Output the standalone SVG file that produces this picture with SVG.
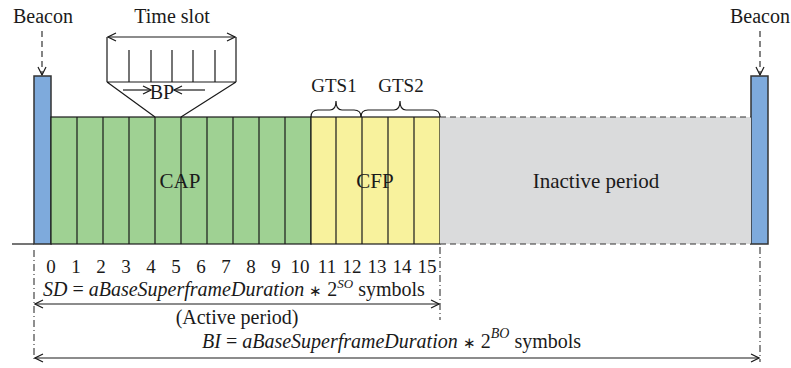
<svg xmlns="http://www.w3.org/2000/svg" width="791" height="368" viewBox="0 0 791 368">
<style>
text{font-family:"Liberation Serif","Times New Roman",serif;fill:#1a1a1a}
.lbl{font-size:20px}
.big{font-size:21px}
.gts{font-size:19px}
.num{font-size:19px}
.frm{font-size:20px}
.ln{stroke:#1a1a1a;stroke-width:1.2;fill:none}
.dash{stroke:#333;stroke-width:1.2;fill:none;stroke-dasharray:6,4}
.dd{stroke:#444;stroke-width:1.2;fill:none;stroke-dasharray:7,3,1,3}
.beacon{fill:#7eaadc;stroke:#333;stroke-width:1.5}
.green{fill:#9fd193;stroke:#1a1a1a;stroke-width:1.2}
.yellow{fill:#f8f29d;stroke:#1a1a1a;stroke-width:1.2}
.it{font-style:italic}
</style>
<defs>
<marker id="ah" viewBox="0 0 10 10" refX="9" refY="5" markerWidth="10" markerHeight="10" markerUnits="userSpaceOnUse" orient="auto-start-reverse">
<path d="M1,1 L9,5 L1,9" fill="none" stroke="#1a1a1a" stroke-width="1.2"/>
</marker>
</defs>

<g id="connectors">
<line class="dash" x1="42" y1="31" x2="42" y2="75" marker-end="url(#ah)"/>
<line class="dash" x1="760" y1="31" x2="760" y2="75" marker-end="url(#ah)"/>
<line class="ln" x1="12" y1="244" x2="34" y2="244"/>
<line class="dd" x1="34" y1="250" x2="34" y2="362"/>
<line class="dd" x1="440" y1="247" x2="440" y2="320"/>
<line class="dd" x1="760" y1="247" x2="760" y2="362"/>
<line class="ln" x1="35" y1="304" x2="439" y2="304" marker-start="url(#ah)" marker-end="url(#ah)"/>
<line class="ln" x1="35" y1="358" x2="759" y2="358" marker-start="url(#ah)" marker-end="url(#ah)"/>
</g>

<g id="beacon-left">
<text class="lbl" x="43" y="23" text-anchor="middle">Beacon</text>
<rect class="beacon" x="34" y="76" width="17" height="168"/>
</g>

<g id="beacon-right">
<text class="lbl" x="760" y="23" text-anchor="middle">Beacon</text>
<rect class="beacon" x="751" y="76" width="17" height="168"/>
</g>

<g id="cap">
<rect class="green" x="51" y="117" width="260" height="127"/>
<path class="ln" d="M77,117V244M103,117V244M129,117V244M155,117V244M181,117V244M207,117V244M233,117V244M259,117V244M285,117V244"/>
<text class="big" x="180" y="188" text-anchor="middle">CAP</text>
</g>

<g id="cfp">
<rect class="yellow" x="311" y="117" width="129" height="127"/>
<path class="ln" d="M336,117V244M362,117V244M388,117V244M414,117V244"/>
<text class="big" x="375" y="188" text-anchor="middle">CFP</text>
</g>

<g id="inactive">
<rect x="440" y="117" width="311" height="127" fill="#dadbdc"/>
<line class="dash" x1="440" y1="117" x2="751" y2="117"/>
<line class="dash" x1="440" y1="244" x2="751" y2="244"/>
<text class="big" x="596" y="188" text-anchor="middle">Inactive period</text>
</g>

<g id="timeslot">
<text class="lbl" x="172" y="23" text-anchor="middle">Time slot</text>
<line class="ln" x1="108" y1="37" x2="235" y2="37" marker-start="url(#ah)" marker-end="url(#ah)"/>
<path class="ln" d="M107,37V82M236,37V82M107,82H236M129,50V82M151,50V82M172,50V82M193,50V82M215,50V82M107,82L155,117M236,82L181,117"/>
<line class="ln" x1="123" y1="90" x2="151" y2="90" marker-end="url(#ah)"/>
<line class="ln" x1="205" y1="90" x2="174" y2="90" marker-end="url(#ah)"/>
<text class="lbl" x="162" y="99" text-anchor="middle">BP</text>
</g>

<g id="gts">
<text class="gts" x="334" y="92" text-anchor="middle">GTS1</text>
<text class="gts" x="401" y="92" text-anchor="middle">GTS2</text>
<path class="ln" d="M311,117 Q311,110 318,110 L330,110 Q336,110 336,101 Q336,110 342,110 L354,110 Q361,110 361,117"/>
<path class="ln" d="M361,117 Q361,110 368,110 L394,110 Q400,110 400,101 Q400,110 406,110 L433,110 Q440,110 440,117"/>
</g>

<g id="numbers" text-anchor="middle">
<text class="num" x="51" y="273">0</text>
<text class="num" x="76" y="273">1</text>
<text class="num" x="101" y="273">2</text>
<text class="num" x="126" y="273">3</text>
<text class="num" x="151" y="273">4</text>
<text class="num" x="176" y="273">5</text>
<text class="num" x="201" y="273">6</text>
<text class="num" x="226" y="273">7</text>
<text class="num" x="251" y="273">8</text>
<text class="num" x="276" y="273">9</text>
<text class="num" x="300" y="273">10</text>
<text class="num" x="327" y="273">11</text>
<text class="num" x="352" y="273">12</text>
<text class="num" x="377" y="273">13</text>
<text class="num" x="402" y="273">14</text>
<text class="num" x="427" y="273">15</text>
</g>

<g id="formulas">
<text class="frm" x="43" y="296" font-size="19.5"><tspan class="it">SD</tspan> = <tspan class="it">aBaseSuperframeDuration</tspan> <tspan font-size="15">∗</tspan> 2<tspan class="it" font-size="13" dy="-8">SO</tspan><tspan dy="8"> symbols</tspan></text>
<text class="frm" x="237" y="324" text-anchor="middle">(Active period)</text>
<text class="frm" x="202" y="348"><tspan class="it">BI</tspan> = <tspan class="it">aBaseSuperframeDuration</tspan> <tspan font-size="15">∗</tspan> 2<tspan class="it" font-size="14" dy="-10">BO</tspan><tspan dy="10"> symbols</tspan></text>
</g>
</svg>
